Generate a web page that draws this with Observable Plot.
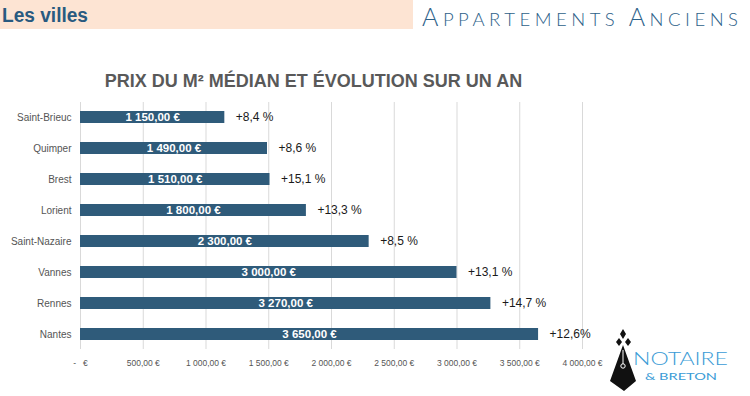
<!DOCTYPE html>
<html>
<head>
<meta charset="utf-8">
<script src="https://cdn.jsdelivr.net/npm/d3@7"></script>
<script src="https://cdn.jsdelivr.net/npm/@observablehq/plot@0.6"></script>
<style>
  html, body { margin: 0; padding: 0; background: #fff; }
  #wrap { position: relative; width: 750px; height: 396px; overflow: hidden; }
  #wrap svg { position: absolute; left: 0; top: 0; }
</style>
</head>
<body>
<div id="wrap"></div>
<script>
const cities = ["Saint-Brieuc", "Quimper", "Brest", "Lorient", "Saint-Nazaire", "Vannes", "Rennes", "Nantes"];
const prices = [1150, 1490, 1510, 1800, 2300, 3000, 3270, 3650];
const changes = ["+8,4 %", "+8,6 %", "+15,1 %", "+13,3 %", "+8,5 %", "+13,1 %", "+14,7 %", "+12,6%"];
const xTicks = [0, 500, 1000, 1500, 2000, 2500, 3000, 3500, 4000];
const headerLeft = "Les villes";
const headerRight = [["A", true], ["PPARTEMENTS ", false], ["A", true], ["NCIENS", false]];
const chartTitle = "PRIX DU M² MÉDIAN ET ÉVOLUTION SUR UN AN";

const data = cities.map((c, i) => ({city: c, price: prices[i], change: changes[i]}));

const num = d => d3.format(",.2f")(d).replace(/,/g, " ").replace(".", ",");
const euro = d => `${num(d)} €`;
const axisFmt = d => d === 0 ? "-   €" : euro(d);

const plot = Plot.plot({
  width: 750,
  height: 396,
  marginTop: 102,
  marginBottom: 47,
  marginLeft: 80,
  marginRight: 168,
  style: {fontFamily: "'Liberation Sans', Arial, sans-serif", color: "#555555", background: "transparent"},
  x: {domain: [0, 4000], label: null},
  y: {domain: cities, paddingInner: 0.6, paddingOuter: 0.27, label: null},
  marks: [
    Plot.ruleX(xTicks, {stroke: "#d9d9d9", strokeWidth: 1}),
    Plot.axisX({ticks: xTicks, tickFormat: axisFmt, tickSize: 0, tickPadding: 10, fontSize: 8.5, label: null}),
    Plot.axisY({tickSize: 0, tickPadding: 9, fontSize: 10, label: null}),
    Plot.barX(data, {x: "price", y: "city", fill: "#2f5b7a"}),
    Plot.text(data, {x: d => d.price / 2, y: "city", text: d => euro(d.price), fill: "white", fontWeight: "bold", fontSize: 11.5}),
    Plot.text(data, {x: "price", y: "city", text: "change", dx: 11, textAnchor: "start", fontSize: 12, fill: "#1a1a1a"})
  ]
});

const wrap = document.getElementById("wrap");
wrap.appendChild(plot);

// Decorations overlay
const svg = d3.select(wrap).append("svg").attr("width", 750).attr("height", 396)
  .style("pointer-events", "none");

svg.append("rect").attr("x", 0).attr("y", 0).attr("width", 413).attr("height", 29).attr("fill", "#fde4d3");
svg.append("text").attr("x", 2).attr("y", 22)
  .attr("font-family", "'Liberation Sans', Arial, sans-serif").attr("font-weight", "bold")
  .attr("font-size", 20).attr("fill", "#295a80")
  .attr("textLength", 86).attr("lengthAdjust", "spacingAndGlyphs")
  .text(headerLeft);

const hr = svg.append("text").attr("x", 422).attr("y", 26)
  .attr("font-family", "Lato, 'Open Sans', sans-serif").attr("font-weight", 300)
  .attr("fill", "#2d6189").attr("textLength", 316).attr("lengthAdjust", "spacing");
headerRight.forEach(([t, big]) => hr.append("tspan").attr("font-size", big ? 25 : 18.5).text(t));

svg.append("text").attr("x", 313.5).attr("y", 87).attr("text-anchor", "middle")
  .attr("font-family", "'Liberation Sans', Arial, sans-serif").attr("font-weight", "bold")
  .attr("font-size", 18).attr("fill", "#595959")
  .text(chartTitle);

// Logo
const logo = svg.append("g");
logo.append("path").attr("fill", "#111").attr("d",
  "M623,329 L626,334 L623,339 L620,334 Z " +
  "M619,338 L622,342 L619,346 L616,342 Z " +
  "M628,338 L631,342 L628,346 L625,342 Z " +
  "M623,345 L636,381 L624,391 L610,381 Z");
logo.append("line").attr("x1", 623).attr("y1", 350).attr("x2", 623).attr("y2", 364).attr("stroke", "#fff").attr("stroke-width", 1);
logo.append("circle").attr("cx", 623).attr("cy", 366).attr("r", 2.2).attr("fill", "none").attr("stroke", "#fff").attr("stroke-width", 1);
logo.append("text").attr("x", 633).attr("y", 365)
  .attr("font-family", "Lato, 'Open Sans', sans-serif").attr("font-weight", 300)
  .attr("font-size", 17.5).attr("fill", "#3a9bd6").attr("textLength", 95).attr("lengthAdjust", "spacingAndGlyphs")
  .text("NOTAIRE");
logo.append("text").attr("x", 645).attr("y", 380)
  .attr("font-family", "Lato, 'Open Sans', sans-serif").attr("font-weight", 400)
  .attr("font-size", 9.5).attr("fill", "#3a9bd6").attr("textLength", 72).attr("lengthAdjust", "spacingAndGlyphs")
  .text("& BRETON");
</script>
</body>
</html>
